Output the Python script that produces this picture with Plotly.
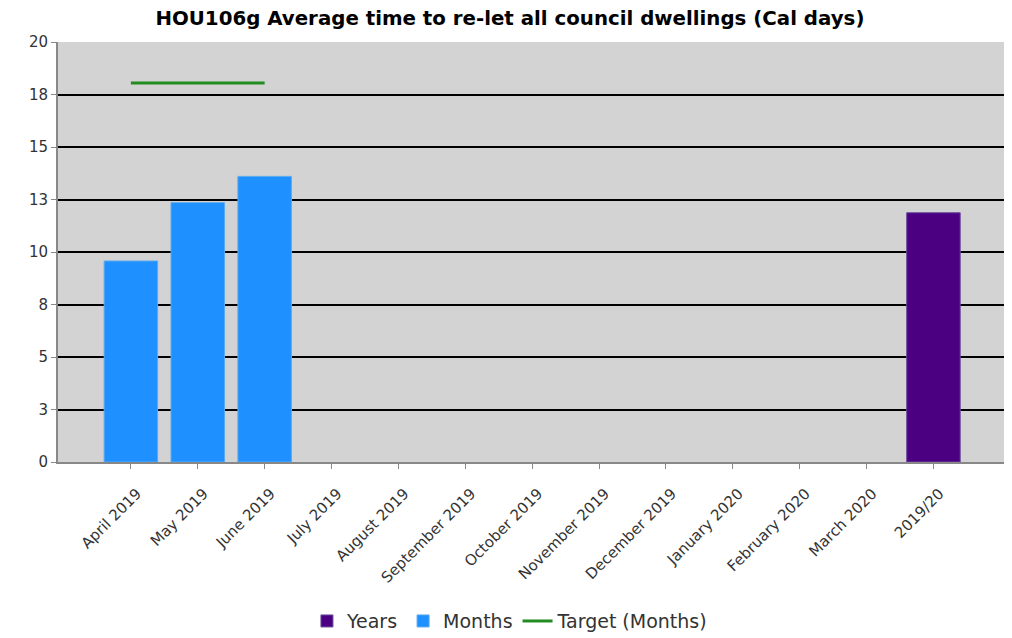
import plotly.graph_objects as go

categories = ["April 2019", "May 2019", "June 2019", "July 2019", "August 2019",
              "September 2019", "October 2019", "November 2019", "December 2019",
              "January 2020", "February 2020", "March 2020", "2019/20"]
month_cats = ["April 2019", "May 2019", "June 2019"]
month_vals = [9.57, 12.35, 13.6]
year_cats = ["2019/20"]
year_vals = [11.87]
target_cats = ["April 2019", "May 2019", "June 2019"]
target_vals = [18.05, 18.05, 18.05]
y_ticks = [0, 2.5, 5, 7.5, 10, 12.5, 15, 17.5, 20]
y_labels = ["0", "3", "5", "8", "10", "13", "15", "18", "20"]

fig = go.Figure()
fig.add_trace(go.Bar(name="Years", x=year_cats, y=year_vals, width=0.8,
                     marker=dict(color="#4B0082", line=dict(color="#6a4a9a", width=1))))
fig.add_trace(go.Bar(name="Months", x=month_cats, y=month_vals, width=0.8,
                     marker=dict(color="#1E90FF", line=dict(color="#5aaaf0", width=1))))
fig.add_trace(go.Scatter(name="Target (Months)", x=target_cats, y=target_vals,
                         mode="lines", line=dict(color="#228B22", width=3)))

# page body has an 8px margin, so the figure sits 8px in from the window edge
fig.update_layout(
    title=dict(text="<b>HOU106g Average time to re-let all council dwellings (Cal days)</b>",
               x=0.496, xanchor="center", y=0.984, yanchor="middle",
               font=dict(family="DejaVu Sans", size=19.8, color="#000")),
    width=1012, height=638,
    margin=dict(l=50, r=15, t=34, b=184),
    plot_bgcolor="#d3d3d3", paper_bgcolor="#ffffff",
    barmode="overlay",
    font=dict(family="DejaVu Sans", color="#333", size=13),
    legend=dict(orientation="h", xref="container", yref="container",
                x=0.496, xanchor="center", y=0.039, yanchor="middle",
                font=dict(size=19, color="#333"), traceorder="normal", itemwidth=30),
)
fig.update_xaxes(type="category", categoryorder="array", categoryarray=categories,
                 range=[-1.09, 13.07], tickangle=-45, tickfont=dict(size=15, color="#333"),
                 ticklabelstandoff=10, ticklabelshift=6,
                 showline=True, linecolor="#888", linewidth=2, ticks="outside",
                 tickcolor="#888", ticklen=5, showgrid=False, automargin=False)
fig.update_yaxes(range=[0, 20], tickvals=y_ticks, ticktext=y_labels,
                 tickfont=dict(size=15, color="#333"),
                 showline=True, linecolor="#888", linewidth=2, ticks="outside",
                 tickcolor="#888", ticklen=5, showgrid=True, gridcolor="#000",
                 gridwidth=2, zeroline=False, automargin=False)

fig.write_html("out.html")
